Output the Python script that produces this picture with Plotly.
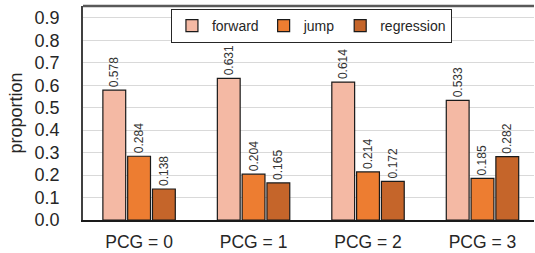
import plotly.graph_objects as go

categories = ["PCG = 0", "PCG = 1", "PCG = 2", "PCG = 3"]
forward = [0.578, 0.631, 0.614, 0.533]
jump = [0.284, 0.204, 0.214, 0.185]
regression = [0.138, 0.165, 0.172, 0.282]
y_ticks = [0.0, 0.1, 0.2, 0.3, 0.4, 0.5, 0.6, 0.7, 0.8, 0.9]

series = [("forward", forward, "#F4B9A4"),
          ("jump", jump, "#ED7D31"),
          ("regression", regression, "#C5652A")]

xpos = list(range(len(categories)))
fig = go.Figure()
for name, vals, col in series:
    fig.add_trace(go.Bar(
        x=xpos, y=vals, name=name,
        marker=dict(color=col, line=dict(color="#1a1a1a", width=1.2)),
        text=[f"{v:.3f}" for v in vals], textposition="outside", textangle=-90,
        constraintext="none",
        textfont=dict(size=12, color="#333333", family="Liberation Sans, Arial"),
        cliponaxis=False,
    ))

fig.update_layout(
    width=535, height=253,
    margin=dict(l=83, r=1, t=6, b=33),
    paper_bgcolor="white", plot_bgcolor="white",
    barmode="group", bargap=0.35, bargroupgap=0.08,
    font=dict(family="Liberation Sans, Arial", color="#262626"),
    showlegend=True,
    legend=dict(orientation="h", x=0.195, y=0.986, xanchor="left", yanchor="top",
                bgcolor="white", bordercolor="#262626", borderwidth=1,
                font=dict(size=14, color="#262626"), traceorder="normal"),
    xaxis=dict(tickmode="array", tickvals=xpos, ticktext=categories, automargin=False,
               range=[-0.49, 3.45], showline=True, linecolor="#1a1a1a", linewidth=2,
               showgrid=False, ticks="", ticklabelstandoff=5,
               tickfont=dict(size=17.5, color="#262626"), zeroline=False),
    yaxis=dict(range=[0, 0.953], tickmode="array", tickvals=y_ticks, automargin=False,
               ticktext=[f"{v:.1f}" for v in y_ticks],
               showgrid=True, gridcolor="#d9d9d9", gridwidth=1,
               showline=True, linecolor="#404040", linewidth=1.5,
               ticks="", ticklabelstandoff=18, tickfont=dict(size=18, color="#262626"),
               title=dict(text="proportion", font=dict(size=18, color="#262626"), standoff=7),
               zeroline=False),
    shapes=[dict(type="line", xref="paper", yref="paper", x0=0, x1=1, y0=1, y1=1,
                 line=dict(color="#595959", width=2.5))],
)

fig.write_html("out.html", config={"displayModeBar": False},
               post_script="document.body.style.margin='0';")
